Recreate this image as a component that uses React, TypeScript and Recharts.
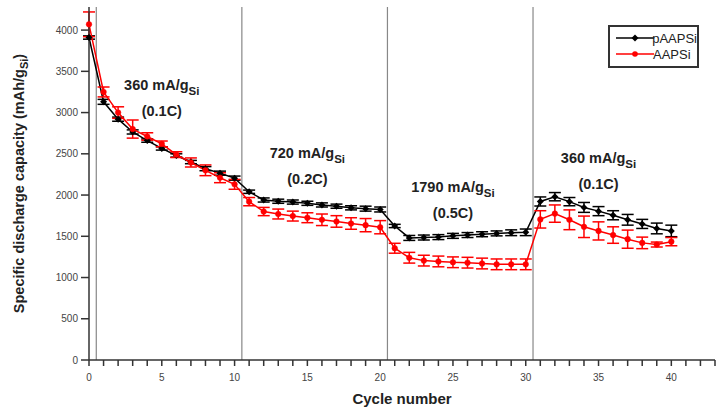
import {
  LineChart, Line, XAxis, YAxis, ErrorBar, ReferenceLine, ReferenceDot, Legend, Label,
} from 'recharts'

const FONT = '"Liberation Sans", Arial, sans-serif'

const cycles = [
  0, 1, 2, 3, 4, 5, 6, 7, 8, 9, 10,
  11, 12, 13, 14, 15, 16, 17, 18, 19, 20,
  21, 22, 23, 24, 25, 26, 27, 28, 29, 30,
  31, 32, 33, 34, 35, 36, 37, 38, 39, 40,
]

const pAAPSi = [
  3910, 3130, 2920, 2765, 2660, 2565, 2480, 2400, 2320, 2265, 2205,
  2040, 1940, 1925, 1915, 1900, 1880, 1865, 1845, 1835, 1825,
  1625, 1480, 1485, 1490, 1505, 1515, 1525, 1535, 1543, 1548,
  1922, 1980, 1920, 1850, 1805, 1755, 1700, 1650, 1595, 1565,
]
const pAAPSiErr = [
  20, 30, 25, 25, 20, 20, 20, 20, 25, 25, 25,
  20, 25, 25, 25, 25, 25, 25, 25, 30, 30,
  20, 30, 30, 30, 30, 30, 30, 30, 35, 40,
  55, 50, 50, 60, 55, 55, 65, 55, 65, 70,
]

const aAPSi = [
  4070, 3250, 3000, 2800, 2710, 2620, 2490, 2395, 2300, 2210, 2130,
  1920, 1800, 1770, 1745, 1725, 1700, 1680, 1655, 1635, 1610,
  1355, 1240, 1205, 1195, 1185, 1180, 1170, 1160, 1160, 1160,
  1705, 1775, 1700, 1615, 1565, 1515, 1465, 1420, 1400, 1435,
]
const aAPSiErr = [
  150, 60, 70, 110, 45, 35, 35, 55, 65, 60, 60,
  50, 50, 60, 60, 60, 70, 70, 70, 80, 80,
  60, 65, 65, 65, 65, 65, 65, 65, 65, 65,
  105, 105, 120, 130, 110, 100, 110, 70, 30, 50,
]

const seriesOrder = ['pAAPSi', 'AAPSi']
const xTicks = Array.from({ length: 44 }, (_, i) => i)
const yTicks = [0, 500, 1000, 1500, 2000, 2500, 3000, 3500, 4000]
const stepBounds = [0.5, 10.5, 20.5, 30.5]
const rateCurrents = ['360', '720', '1790', '360']
const rateC = ['(0.1C)', '(0.2C)', '(0.5C)', '(0.1C)']

const data = cycles.map((c, i) => ({
  cycle: c,
  pAAPSi: pAAPSi[i],
  pErr: pAAPSiErr[i],
  AAPSi: aAPSi[i],
  aErr: aAPSiErr[i],
}))

function Diamond(props: any) {
  const { cx, cy } = props
  if (cx == null || cy == null) return null
  const s = 3.5
  return (
    <polygon
      points={`${cx},${cy - s} ${cx + s},${cy} ${cx},${cy + s} ${cx - s},${cy}`}
      fill="#000"
    />
  )
}

function RateLabel(props: any) {
  const { viewBox, current, crate } = props
  if (!viewBox) return null
  const cx = viewBox.x + viewBox.width / 2
  const cy = viewBox.y + viewBox.height / 2
  const common = { textAnchor: 'middle' as const, fontFamily: FONT, fontWeight: 'bold', fill: '#222' }
  return (
    <g>
      <text x={cx} y={cy} fontSize={14.5} {...common}>
        {current + ' mA/g'}
        <tspan fontSize={11.5} dy={5}>Si</tspan>
      </text>
      <text x={cx} y={cy + 26} fontSize={14.5} {...common}>{crate}</text>
    </g>
  )
}

function YTitle(props: any) {
  const { viewBox } = props
  if (!viewBox) return null
  const x = viewBox.x + 24
  const y = viewBox.y + viewBox.height / 2
  return (
    <text
      x={x} y={y} transform={`rotate(-90 ${x} ${y})`}
      textAnchor="middle" fontFamily={FONT} fontWeight="bold" fontSize={14.5} fill="#222"
    >
      Specific discharge capacity (mAh/g
      <tspan fontSize={11} dy={4}>Si</tspan>
      <tspan dy={-4}>)</tspan>
    </text>
  )
}

function XTitle(props: any) {
  const { viewBox } = props
  if (!viewBox) return null
  return (
    <text
      x={viewBox.x + viewBox.width / 2} y={viewBox.y + 44}
      textAnchor="middle" fontFamily={FONT} fontWeight="bold" fontSize={15} fill="#222"
    >
      Cycle number
    </text>
  )
}

function LegendBox(props: any) {
  const items = [...(props.payload || [])].sort(
    (a: any, b: any) => seriesOrder.indexOf(a.value) - seriesOrder.indexOf(b.value),
  )
  return (
    <div
      style={{
        width: 87, height: 36, border: '2px solid #333', background: '#fff',
        fontFamily: FONT, fontSize: 13, color: '#222', paddingTop: 3, boxSizing: 'content-box',
      }}
    >
      {items.map((it: any) => (
        <div key={it.value} style={{ display: 'flex', alignItems: 'center', height: 16 }}>
          <svg width={42} height={10} style={{ marginLeft: 4 }}>
            <line x1={2} y1={5} x2={40} y2={5} stroke={it.color} strokeWidth={1.5} />
            {it.value === 'pAAPSi'
              ? <polygon points="21,1.5 24.5,5 21,8.5 17.5,5" fill={it.color} />
              : <circle cx={21} cy={5} r={2.8} fill={it.color} />}
          </svg>
          <span style={{ marginLeft: -3 }}>{it.value}</span>
        </div>
      ))}
    </div>
  )
}

export default function App() {
  const annoX = [5, 15, 25, 35]
  const annoY = [3270, 2450, 2035, 2390]
  return (
    <div style={{ position: 'absolute', left: 0, top: 0, background: '#fff' }}>
      <LineChart width={722} height={409} data={data} margin={{ top: 7, right: 7, bottom: 0, left: 0 }}>
        <XAxis
          dataKey="cycle"
          type="number"
          domain={[0, 43]}
          ticks={xTicks}
          interval={0}
          tickFormatter={(v: number) => (v % 5 === 0 ? String(v) : '')}
          height={49}
          tickSize={6}
          tickMargin={8}
          tick={{ fontSize: 10, fill: '#444', fontFamily: FONT }}
          stroke="#333"
          strokeWidth={1.5}
        >
          <Label content={<XTitle />} />
        </XAxis>
        <YAxis
          type="number"
          domain={[0, 4280]}
          ticks={yTicks}
          interval={0}
          width={89}
          tickSize={8}
          tickMargin={3}
          tick={{ fontSize: 10, fill: '#444', fontFamily: FONT }}
          stroke="#333"
          strokeWidth={1.5}
          allowDataOverflow
        >
          <Label content={<YTitle />} />
        </YAxis>
        {stepBounds.map((b) => (
          <ReferenceLine key={b} x={b} stroke="#888" strokeWidth={1.2} />
        ))}
        <Line
          dataKey="pAAPSi"
          name="pAAPSi"
          stroke="#000"
          strokeWidth={1.5}
          dot={<Diamond />}
          activeDot={false}
          isAnimationActive={false}
        >
          <ErrorBar dataKey="pErr" direction="y" width={6} stroke="#000" strokeWidth={1.5} />
        </Line>
        <Line
          dataKey="AAPSi"
          name="AAPSi"
          stroke="#ff0000"
          strokeWidth={1.5}
          dot={{ r: 2.8, fill: '#ff0000', stroke: '#ff0000', strokeWidth: 0.5 }}
          activeDot={false}
          isAnimationActive={false}
        >
          <ErrorBar dataKey="aErr" direction="y" width={6} stroke="#ff0000" strokeWidth={1.5} />
        </Line>
        {rateCurrents.map((cur, i) => (
          <ReferenceDot
            key={i}
            x={annoX[i]}
            y={annoY[i]}
            r={0}
            fill="none"
            stroke="none"
            label={<RateLabel current={cur} crate={rateC[i]} />}
          />
        ))}
        <Legend
          layout="vertical"
          align="center"
          verticalAlign="middle"
          content={<LegendBox />}
          wrapperStyle={{ left: 608, top: 25, width: 91, height: 40 }}
        />
      </LineChart>
    </div>
  )
}
